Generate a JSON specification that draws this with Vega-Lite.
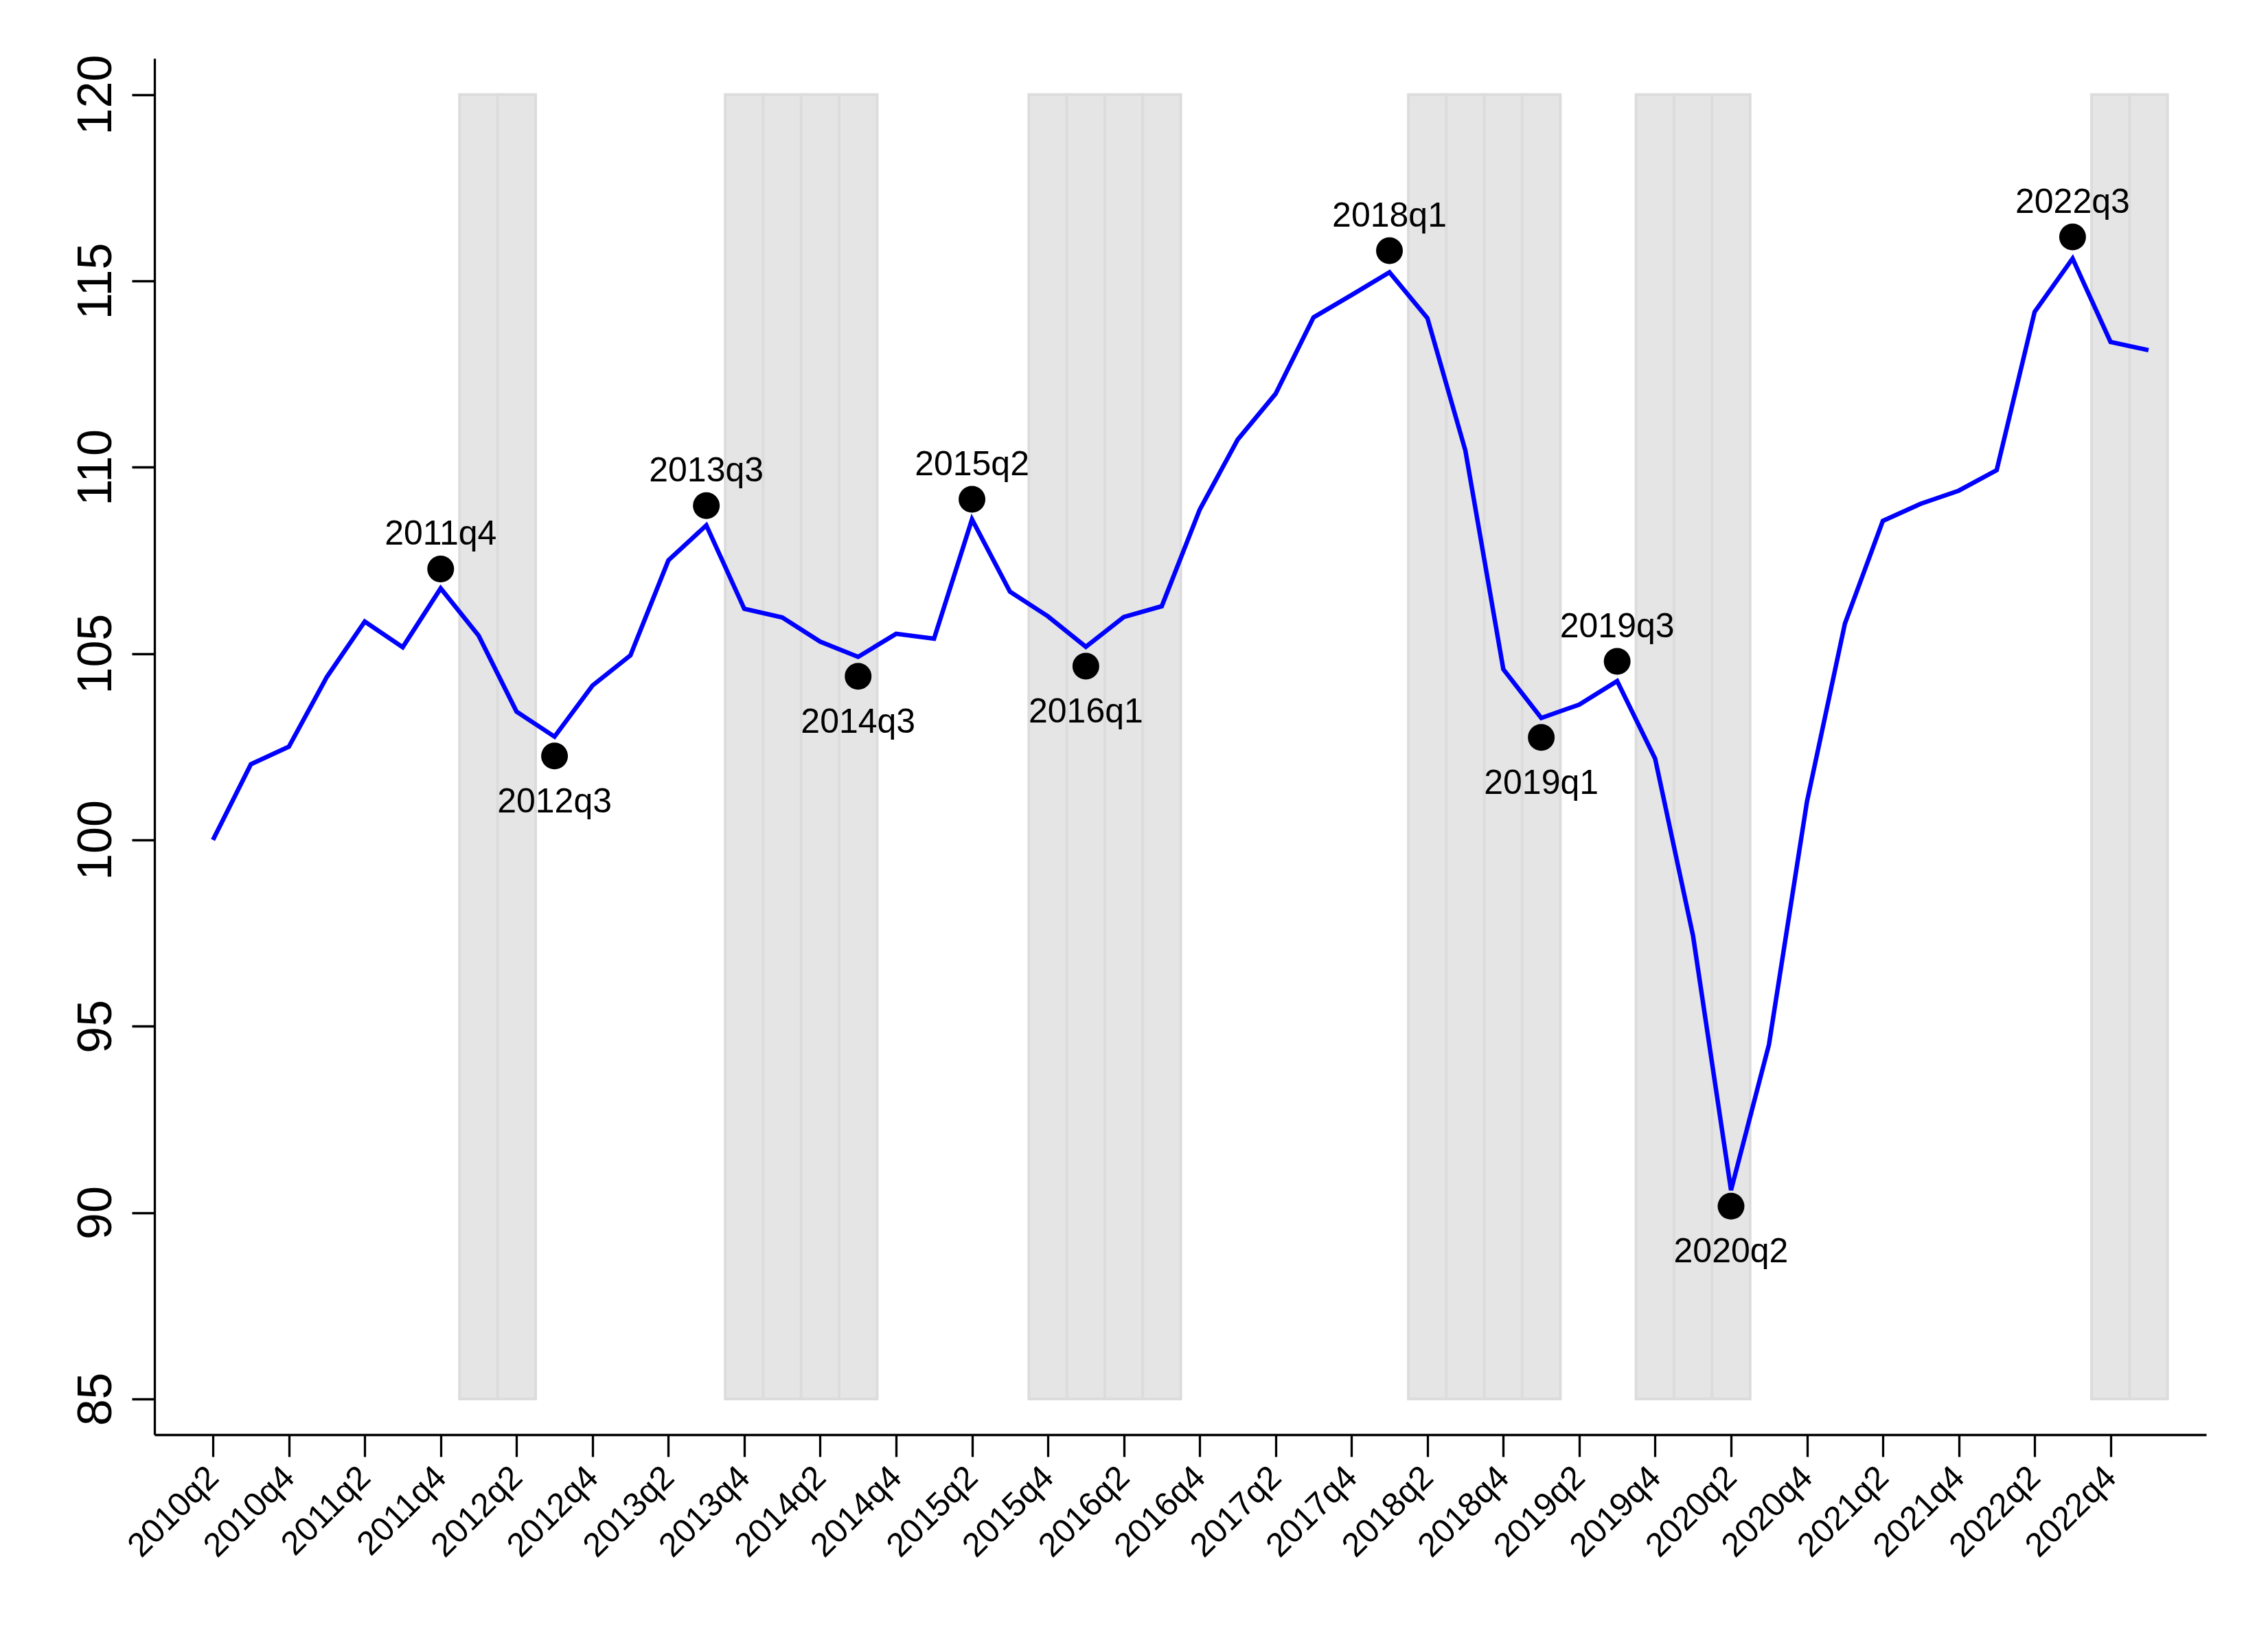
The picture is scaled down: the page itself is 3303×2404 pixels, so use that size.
{
  "$schema": "https://vega.github.io/schema/vega-lite/v6.json",
  "autosize": "none",
  "width": 2988,
  "height": 2004,
  "padding": {"left": 225, "top": 85, "right": 90, "bottom": 315},
  "background": "white",
  "config": {
    "view": {"stroke": null},
    "font": "Liberation Sans",
    "axis": {
      "grid": false,
      "domainColor": "black",
      "domainWidth": 3.3,
      "tickColor": "black",
      "tickWidth": 3.3,
      "labelColor": "black",
      "labelFont": "Liberation Sans",
      "title": null
    }
  },
  "data": {
    "values": [
      {"t": 0, "q": "2010q2", "v": 100.0},
      {"t": 1, "q": "2010q3", "v": 102.03},
      {"t": 2, "q": "2010q4", "v": 102.5},
      {"t": 3, "q": "2011q1", "v": 104.37},
      {"t": 4, "q": "2011q2", "v": 105.86},
      {"t": 5, "q": "2011q3", "v": 105.17},
      {"t": 6, "q": "2011q4", "v": 106.75, "m": 107.27, "kind": "peak"},
      {"t": 7, "q": "2012q1", "v": 105.48, "rec": 1},
      {"t": 8, "q": "2012q2", "v": 103.44, "rec": 1},
      {"t": 9, "q": "2012q3", "v": 102.77, "m": 102.25, "kind": "trough"},
      {"t": 10, "q": "2012q4", "v": 104.14},
      {"t": 11, "q": "2013q1", "v": 104.95},
      {"t": 12, "q": "2013q2", "v": 107.5},
      {"t": 13, "q": "2013q3", "v": 108.44, "m": 108.97, "kind": "peak"},
      {"t": 14, "q": "2013q4", "v": 106.2, "rec": 1},
      {"t": 15, "q": "2014q1", "v": 105.97, "rec": 1},
      {"t": 16, "q": "2014q2", "v": 105.32, "rec": 1},
      {"t": 17, "q": "2014q3", "v": 104.91, "m": 104.39, "kind": "trough", "rec": 1},
      {"t": 18, "q": "2014q4", "v": 105.53},
      {"t": 19, "q": "2015q1", "v": 105.4},
      {"t": 20, "q": "2015q2", "v": 108.6, "m": 109.14, "kind": "peak"},
      {"t": 21, "q": "2015q3", "v": 106.66},
      {"t": 22, "q": "2015q4", "v": 106.0, "rec": 1},
      {"t": 23, "q": "2016q1", "v": 105.18, "m": 104.66, "kind": "trough", "rec": 1},
      {"t": 24, "q": "2016q2", "v": 105.98, "rec": 1},
      {"t": 25, "q": "2016q3", "v": 106.27, "rec": 1},
      {"t": 26, "q": "2016q4", "v": 108.86},
      {"t": 27, "q": "2017q1", "v": 110.74},
      {"t": 28, "q": "2017q2", "v": 111.97},
      {"t": 29, "q": "2017q3", "v": 114.02},
      {"t": 30, "q": "2017q4", "v": 114.62},
      {"t": 31, "q": "2018q1", "v": 115.23, "m": 115.81, "kind": "peak"},
      {"t": 32, "q": "2018q2", "v": 114.0, "rec": 1},
      {"t": 33, "q": "2018q3", "v": 110.45, "rec": 1},
      {"t": 34, "q": "2018q4", "v": 104.58, "rec": 1},
      {"t": 35, "q": "2019q1", "v": 103.27, "m": 102.75, "kind": "trough", "rec": 1},
      {"t": 36, "q": "2019q2", "v": 103.63},
      {"t": 37, "q": "2019q3", "v": 104.26, "m": 104.79, "kind": "peak"},
      {"t": 38, "q": "2019q4", "v": 102.18, "rec": 1},
      {"t": 39, "q": "2020q1", "v": 97.42, "rec": 1},
      {"t": 40, "q": "2020q2", "v": 90.6, "m": 90.17, "kind": "trough", "rec": 1},
      {"t": 41, "q": "2020q3", "v": 94.51},
      {"t": 42, "q": "2020q4", "v": 101.02},
      {"t": 43, "q": "2021q1", "v": 105.8},
      {"t": 44, "q": "2021q2", "v": 108.56},
      {"t": 45, "q": "2021q3", "v": 109.02},
      {"t": 46, "q": "2021q4", "v": 109.37},
      {"t": 47, "q": "2022q1", "v": 109.92},
      {"t": 48, "q": "2022q2", "v": 114.17},
      {"t": 49, "q": "2022q3", "v": 115.6, "m": 116.18, "kind": "peak"},
      {"t": 50, "q": "2022q4", "v": 113.36, "rec": 1},
      {"t": 51, "q": "2023q1", "v": 113.14, "rec": 1}
    ]
  },
  "encoding": {
    "x": {
      "field": "t",
      "type": "quantitative",
      "scale": {"domain": [-1.45, 52.43], "nice": false, "zero": false},
      "axis": {
        "values": [0, 2, 4, 6, 8, 10, 12, 14, 16, 18, 20, 22, 24, 26, 28, 30, 32, 34, 36, 38, 40, 42, 44, 46, 48, 50],
        "labelExpr": "toString(2010 + floor((datum.value + 1) / 4)) + 'q' + toString(((datum.value + 1) % 4) + 1)",
        "tickSize": 32,
        "labelFontSize": 49,
        "labelAngle": 315,
        "labelAlign": "right",
        "labelBaseline": "middle",
        "labelPadding": 22,
        "labelOverlap": false,
        "labelFlush": false
      }
    }
  },
  "layer": [
    {
      "transform": [{"filter": "datum.rec == 1"}],
      "mark": {"type": "bar", "size": 55.46, "fill": "#e5e5e5", "stroke": "#dcdcdc", "strokeWidth": 4},
      "encoding": {
        "y": {"datum": 120, "type": "quantitative"},
        "y2": {"datum": 85}
      }
    },
    {
      "mark": {"type": "line", "color": "#0000ff", "strokeWidth": 6.5, "strokeJoin": "miter"},
      "encoding": {
        "y": {
          "field": "v",
          "type": "quantitative",
          "scale": {"domain": [84.04, 120.97], "nice": false, "zero": false},
          "axis": {
            "values": [85, 90, 95, 100, 105, 110, 115, 120],
            "tickSize": 33,
            "labelFontSize": 70,
            "labelAngle": 270,
            "labelAlign": "center",
            "labelBaseline": "alphabetic",
            "labelPadding": 31,
            "labelFlush": false,
            "labelOverlap": false
          }
        }
      }
    },
    {
      "transform": [{"filter": "isValid(datum.kind)"}],
      "mark": {"type": "circle", "size": 1520, "color": "black", "opacity": 1},
      "encoding": {"y": {"field": "m", "type": "quantitative"}}
    },
    {
      "transform": [{"filter": "datum.kind == 'peak'"}],
      "mark": {"type": "text", "fontSize": 50, "font": "Liberation Sans", "color": "black", "align": "center", "baseline": "alphabetic", "dy": -35},
      "encoding": {"y": {"field": "m", "type": "quantitative"}, "text": {"field": "q"}}
    },
    {
      "transform": [{"filter": "datum.kind == 'trough'"}],
      "mark": {"type": "text", "fontSize": 50, "font": "Liberation Sans", "color": "black", "align": "center", "baseline": "alphabetic", "dy": 82},
      "encoding": {"y": {"field": "m", "type": "quantitative"}, "text": {"field": "q"}}
    }
  ]
}
